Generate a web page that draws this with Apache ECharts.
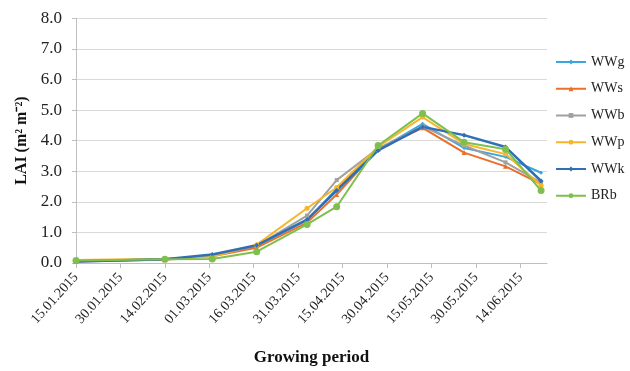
<!DOCTYPE html>
<html>
<head>
<meta charset="utf-8">
<script src="https://cdn.jsdelivr.net/npm/echarts@6/dist/echarts.min.js"></script>
<style>html,body{margin:0;padding:0;background:#fff}#c{width:630px;height:371px}</style>
</head>
<body>
<div id="c"></div>
<script>
var dates = ['15.01.2015','14.02.2015','02.03.2015','17.03.2015','03.04.2015','13.04.2015','27.04.2015','12.05.2015','26.05.2015','09.06.2015','21.06.2015'];
var seriesNames = ['WWg','WWs','WWb','WWp','WWk','BRb'];
var WWg = [0.06, 0.12, 0.24, 0.55, 1.40, 2.42, 3.70, 4.55, 3.76, 3.47, 2.95];
var WWs = [0.05, 0.11, 0.22, 0.50, 1.32, 2.24, 3.72, 4.42, 3.61, 3.16, 2.58];
var WWb = [0.06, 0.12, 0.24, 0.56, 1.55, 2.71, 3.75, 4.47, 3.84, 3.29, 2.63];
var WWp = [0.10, 0.14, 0.20, 0.60, 1.79, 2.47, 3.80, 4.77, 3.89, 3.56, 2.53];
var WWk = [0.05, 0.12, 0.28, 0.58, 1.42, 2.37, 3.68, 4.45, 4.18, 3.79, 2.68];
var BRb = [0.08, 0.12, 0.13, 0.37, 1.26, 1.84, 3.84, 4.89, 3.95, 3.72, 2.37];
var axisStart = '15.01.2015';
var axisEnd = '23.06.2015';
var yTicks = ['0.0','1.0','2.0','3.0','4.0','5.0','6.0','7.0','8.0'];

var colors = ['#3aa6df','#e8702a','#a0a0a0','#f7b52c','#2f6fb5','#7fbf4d'];
var symbols = ['diamond','triangle','rect','circle','diamond','circle'];
var symSizes = [4,5,4,5,5,7];
var widths = [2,2,2,2,2.5,2];

var DAY = 86400000;
function parseD(s){var p=s.split('.');return Date.UTC(+p[2],+p[1]-1,+p[0]);}
var t0 = parseD(axisStart);
function dayOff(s){return Math.round((parseD(s)-t0)/DAY);}
function fmt(d){var dt=new Date(t0+d*DAY);var dd=('0'+dt.getUTCDate()).slice(-2);var mm=('0'+(dt.getUTCMonth()+1)).slice(-2);return dd+'.'+mm+'.'+dt.getUTCFullYear();}

var all = [WWg,WWs,WWb,WWp,WWk,BRb];
var serif = '"Liberation Serif","Times New Roman",serif';
var series = all.map(function(vals,i){
  return {
    name: seriesNames[i], type:'line',
    data: vals.map(function(v,j){return [dayOff(dates[j]), v];}),
    symbol: symbols[i], symbolSize: symSizes[i], showSymbol:true,
    lineStyle:{color:colors[i], width:widths[i]},
    itemStyle:{color:colors[i]},
    emphasis:{disabled:true}, animation:false
  };
});

var chart = echarts.init(document.getElementById('c'));
chart.setOption({
  animation:false,
  grid:{left:76, right:83, top:18.3, bottom:99.3, containLabel:false},
  legend:{
    orient:'vertical', left:550, top:50, itemWidth:30, itemHeight:6, itemGap:12.75,
    textStyle:{fontFamily:serif, fontSize:14, color:'#222', lineHeight:14},
    data:seriesNames
  },
  xAxis:{
    type:'value', min:0, max:dayOff(axisEnd), interval:15,
    name:'Growing period', nameLocation:'middle', nameGap:86,
    nameTextStyle:{fontFamily:serif, fontSize:17, fontWeight:'bold', color:'#111'},
    axisLine:{lineStyle:{color:'#bfbfbf', width:1}},
    axisTick:{show:true, length:5, lineStyle:{color:'#bfbfbf'}},
    splitLine:{show:false},
    axisLabel:{rotate:48, margin:12, fontFamily:serif, fontSize:14, color:'#222', showMaxLabel:false,
      formatter:function(v){return (v%15===0)?fmt(v):'';}}
  },
  yAxis:{
    type:'value', min:0, max:8, interval:1,
    name:'LAI (m² m⁻²)', nameLocation:'middle', nameGap:46,
    nameTextStyle:{fontFamily:serif, fontSize:16, fontWeight:'bold', color:'#111'},
    axisLine:{show:true, lineStyle:{color:'#bfbfbf', width:1}},
    axisTick:{show:true, length:4, lineStyle:{color:'#bfbfbf'}},
    splitLine:{lineStyle:{color:'#d9d9d9', width:1}},
    axisLabel:{margin:14, fontFamily:serif, fontSize:17, color:'#222',
      formatter:function(v){return yTicks[Math.round(v)];}}
  },
  series: series
});
</script>
</body>
</html>
